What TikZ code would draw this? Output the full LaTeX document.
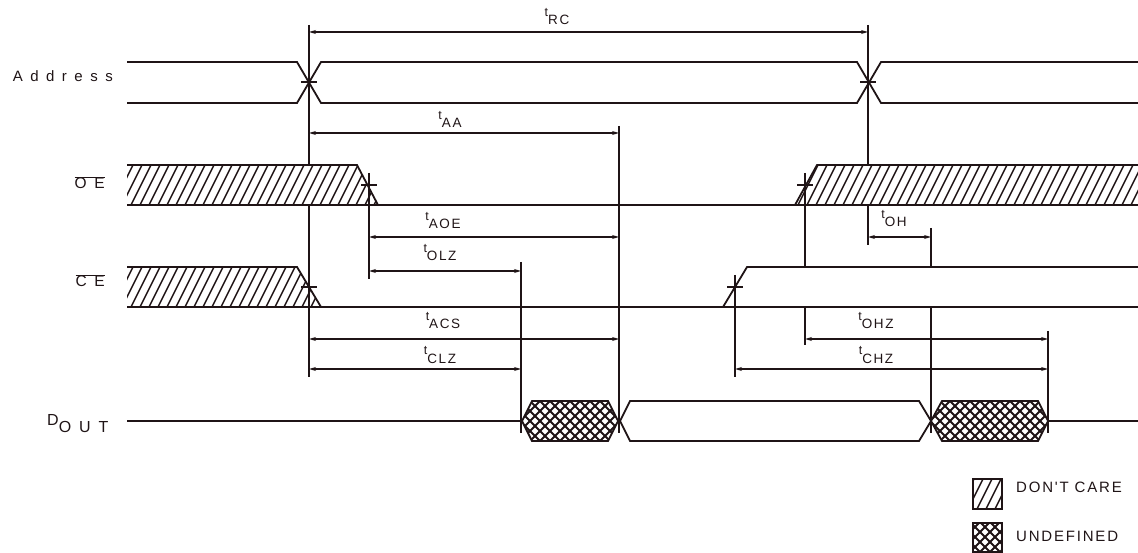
\documentclass[tikz,border=0pt]{standalone}
\usepackage{fontspec}
\setmainfont{Liberation Sans}
\newfontfamily\sigfont[LetterSpace=50]{Liberation Sans}
\newfontfamily\subfont[LetterSpace=12]{Liberation Sans}
\usetikzlibrary{arrows.meta}
\definecolor{ink}{HTML}{1F1416}
\tikzstyle{signal} = [line width=1.8pt, draw=ink]
\tikzstyle{marker} = [line width=1.6pt, draw=ink]
\tikzstyle{tick} = [line width=1.4pt, draw=ink]
\tikzstyle{arrow} = [line width=1.2pt, draw=ink, {Stealth[length=7pt,width=4pt]}-{Stealth[length=7pt,width=4pt]}]
\tikzstyle{hatch} = [line width=1.5pt, draw=ink]
\tikzstyle{xhatch} = [line width=2pt, draw=ink]
\tikzstyle{siglabel} = [inner sep=0pt, text=ink, font=\sigfont\fontsize{15}{15}\selectfont]
\tikzstyle{tlabel} = [inner sep=0pt, anchor=base, text=ink]
\tikzstyle{legend} = [inner sep=0pt, anchor=west, text=ink, font=\subfont\fontsize{15}{15}\selectfont]
\newcommand{\tlab}[1]{\raisebox{8.5pt}{\fontsize{12.5}{12}\selectfont t}{\subfont\fontsize{13.5}{13}\selectfont #1}}
\newcommand{\barlab}[1]{$\overline{\hbox{\sigfont\fontsize{15.5}{15}\selectfont #1}}$}

\begin{document}
\begin{tikzpicture}[x=1pt, y=-1pt]
\useasboundingbox (0,0) rectangle (1138,553);

% signal names
\node (addr) [siglabel, anchor=east] at (113,76) {Address};
\node (oe) [siglabel, anchor=base east] at (105,189) {\barlab{OE}};
\node (ce) [siglabel, anchor=base east] at (105,287) {\barlab{CE}};
\node (dout) [siglabel, anchor=base west, font=\sigfont\fontsize{16}{16}\selectfont] at (47,425) {D\raisebox{-7pt}{OUT}};

% Address
\draw [signal] (127,62) -- (297,62) -- (321,103) -- (857,103) -- (881,62) -- (1138,62);
\draw [signal] (127,103) -- (297,103) -- (321,62) -- (857,62) -- (881,103) -- (1138,103);

% OE
\begin{scope}
\clip (127,165) -- (357,165) -- (378,205) -- (127,205) -- cycle;
\foreach \x in {104,113,...,385} \draw [hatch] (\x,205) -- ++(20,-40);
\end{scope}
\begin{scope}
\clip (795,205) -- (817,165) -- (1138,165) -- (1138,205) -- cycle;
\foreach \x in {780,789,...,1140} \draw [hatch] (\x,205) -- ++(20,-40);
\end{scope}
\draw [signal] (127,165) -- (357,165) -- (378,205);
\draw [signal] (795,205) -- (817,165) -- (1138,165);
\draw [signal] (127,205) -- (1138,205);

% CE
\begin{scope}
\clip (127,267) -- (297,267) -- (321,307) -- (127,307) -- cycle;
\foreach \x in {104,113,...,325} \draw [hatch] (\x,307) -- ++(20,-40);
\end{scope}
\draw [signal] (127,267) -- (297,267) -- (321,307);
\draw [signal] (723,307) -- (747,267) -- (1138,267);
\draw [signal] (127,307) -- (1138,307);

% DOUT
\begin{scope}
\clip (522,421) -- (532,401) -- (608,401) -- (618,421) -- (608,441) -- (532,441) -- cycle;
\foreach \x in {480,490,...,660} \draw [xhatch] (\x,441) -- ++(40,-40) (\x,441) -- ++(-40,-40);
\end{scope}
\begin{scope}
\clip (931,421) -- (942,401) -- (1038,401) -- (1048,421) -- (1038,441) -- (942,441) -- cycle;
\foreach \x in {890,900,...,1090} \draw [xhatch] (\x,441) -- ++(40,-40) (\x,441) -- ++(-40,-40);
\end{scope}
\draw [signal] (127,421) -- (522,421);
\draw [signal] (522,421) -- (532,401) -- (608,401) -- (618,421) -- (608,441) -- (532,441) -- cycle;
\draw [signal] (620,421) -- (630,401) -- (919,401) -- (931,421) -- (919,441) -- (630,441) -- cycle;
\draw [signal] (931,421) -- (942,401) -- (1038,401) -- (1048,421) -- (1038,441) -- (942,441) -- cycle;
\draw [signal] (1048,421) -- (1138,421);

% reference lines and crossing marks
\foreach \x/\ya/\yb in {309/25/165, 309/205/377, 369/173/279, 521/262/433, 619/126/433,
  868/25/165, 868/205/245, 805/173/267, 805/307/345, 931/228/267, 931/307/433,
  735/275/377, 1048/331/433}
  \draw [marker] (\x,\ya) -- (\x,\yb);
\foreach \x/\y in {309/82, 868/82, 369/185, 805/185, 309/287, 735/287}
  \draw [tick] (\x-8,\y) -- (\x+8,\y);

% timing arrows
\draw [arrow] (309,32) -- (868,32);
\draw [arrow] (309,133) -- (619,133);
\draw [arrow] (369,237) -- (619,237);
\draw [arrow] (369,271) -- (521,271);
\draw [arrow] (309,339) -- (619,339);
\draw [arrow] (309,369) -- (521,369);
\draw [arrow] (868,237) -- (931,237);
\draw [arrow] (805,339) -- (1048,339);
\draw [arrow] (735,369) -- (1048,369);

\node (trc) [tlabel] at (557,25) {\tlab{RC}};
\node (taa) [tlabel] at (450,128) {\tlab{AA}};
\node (taoe) [tlabel] at (443,229) {\tlab{AOE}};
\node (tolz) [tlabel] at (440,261) {\tlab{OLZ}};
\node (tacs) [tlabel] at (443,329) {\tlab{ACS}};
\node (tclz) [tlabel] at (440,363) {\tlab{CLZ}};
\node (toh) [tlabel] at (894,227) {\tlab{OH}};
\node (tohz) [tlabel] at (876,329) {\tlab{OHZ}};
\node (tchz) [tlabel] at (876,363) {\tlab{CHZ}};

% legend
\begin{scope}
\clip (973,479) rectangle (1002,509);
\foreach \x in {950,959,...,1010} \draw [hatch] (\x,509) -- ++(15,-30);
\end{scope}
\draw [marker] (973,479) rectangle (1002,509);
\begin{scope}
\clip (973,523) rectangle (1002,552);
\foreach \x in {940,950,...,1040} \draw [xhatch] (\x,552) -- ++(30,-30) (\x,552) -- ++(-30,-30);
\end{scope}
\draw [marker] (973,523) rectangle (1002,552);
\node (care) [legend] at (1016,487) {DON'T CARE};
\node (undef) [legend] at (1016,536) {UNDEFINED};

\end{tikzpicture}
\end{document}
